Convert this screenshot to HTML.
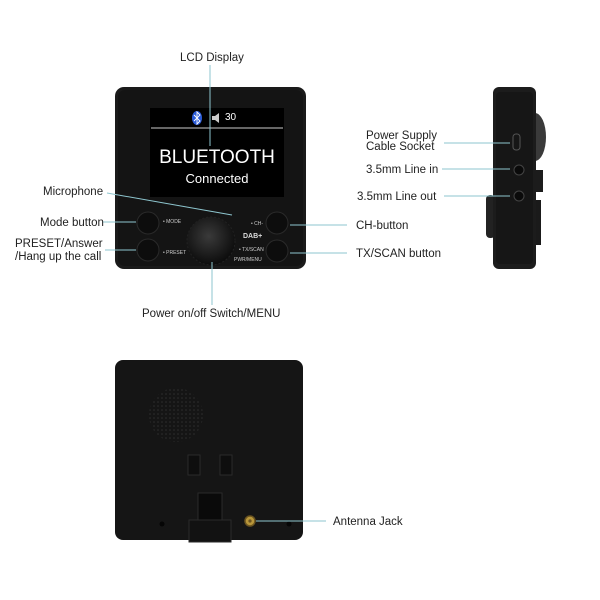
<!DOCTYPE html>
<html><head><meta charset="utf-8"><style>
body{margin:0;width:600px;height:600px;background:#fff;position:relative;overflow:hidden;font-family:"Liberation Sans",sans-serif;color:#222}
.t{position:absolute;font-size:11.5px;white-space:nowrap;line-height:12px}
svg{position:absolute;left:0;top:0}
</style></head><body>
<svg width="600" height="600" viewBox="0 0 600 600">
<defs>
<radialGradient id="kn" cx="0.45" cy="0.4" r="0.6"><stop offset="0" stop-color="#3a3a3a"/><stop offset="1" stop-color="#0c0c0c"/></radialGradient>
<pattern id="dots" width="4" height="4" patternUnits="userSpaceOnUse"><circle cx="2" cy="2" r="0.8" fill="#2e2e2e"/></pattern>
</defs>
<!-- front device -->
<rect x="115" y="87" width="191" height="182" rx="9" fill="#1a1a1a"/>
<rect x="118" y="90" width="185" height="176" rx="7" fill="#141414"/>
<rect x="150" y="108" width="134" height="89" fill="#000"/>
<line x1="151" y1="128" x2="283" y2="128" stroke="#888" stroke-width="1.5"/>
<ellipse cx="197" cy="118" rx="5" ry="7" fill="#2a5bd8"/>
<path d="M194 115 L200 121 L197 124 L197 112 L200 115 L194 121" stroke="#fff" stroke-width="0.9" fill="none"/>
<path d="M212 116 h3 l4 -3 v10 l-4 -3 h-3z" fill="#ccc"/>
<circle cx="148" cy="223" r="11" fill="#0d0d0d" stroke="#2a2a2a"/>
<circle cx="148" cy="250" r="11" fill="#0d0d0d" stroke="#2a2a2a"/>
<circle cx="277" cy="223" r="11" fill="#0d0d0d" stroke="#2a2a2a"/>
<circle cx="277" cy="251" r="11" fill="#0d0d0d" stroke="#2a2a2a"/>
<circle cx="211" cy="241" r="24" fill="url(#kn)" stroke="#222" stroke-dasharray="2 2"/>
<!-- side device -->
<path d="M535 113 a11 24 0 0 1 0 48z" fill="#3a3a3a"/>
<rect x="535" y="170" width="8" height="22" fill="#1c1c1c"/>
<rect x="535" y="200" width="6" height="45" fill="#1a1a1a"/>
<rect x="486" y="195" width="9" height="43" rx="4" fill="#222"/>
<rect x="493" y="87" width="43" height="182" rx="6" fill="#1c1c1c"/>
<rect x="496" y="92" width="37" height="172" rx="4" fill="#161616"/>
<rect x="513" y="134" width="7" height="16" rx="3" fill="none" stroke="#555"/>
<circle cx="519" cy="170" r="5" fill="#0a0a0a" stroke="#444"/>
<circle cx="519" cy="196" r="5" fill="#0a0a0a" stroke="#444"/>
<!-- back device -->
<rect x="115" y="360" width="188" height="180" rx="8" fill="#151515"/>
<circle cx="176" cy="415" r="27" fill="url(#dots)"/>
<rect x="188" y="455" width="12" height="20" fill="#0e0e0e" stroke="#2a2a2a"/>
<rect x="220" y="455" width="12" height="20" fill="#0e0e0e" stroke="#2a2a2a"/>
<rect x="198" y="493" width="24" height="40" fill="#0a0a0a" stroke="#2a2a2a"/>
<rect x="189" y="520" width="42" height="22" fill="#121212" stroke="#2a2a2a"/>
<circle cx="250" cy="521" r="5" fill="#b8963a" stroke="#6b5420" stroke-width="1.5"/>
<circle cx="250" cy="521" r="1.6" fill="#6b5420"/>
<circle cx="162" cy="524" r="2.5" fill="#050505"/>
<circle cx="289" cy="524" r="2.5" fill="#050505"/>
<!-- leader lines -->
<g stroke="#8ec6cf" stroke-width="1" fill="none">
<line x1="210" y1="65" x2="210" y2="146"/>
<line x1="107" y1="193" x2="232" y2="215"/>
<line x1="103" y1="222" x2="136" y2="222"/>
<line x1="105" y1="250" x2="136" y2="250"/>
<line x1="290" y1="225" x2="347" y2="225"/>
<line x1="290" y1="253" x2="347" y2="253"/>
<line x1="212" y1="262" x2="212" y2="305"/>
<line x1="444" y1="143" x2="510" y2="143"/>
<line x1="442" y1="169" x2="510" y2="169"/>
<line x1="444" y1="196" x2="510" y2="196"/>
<line x1="256" y1="521" x2="326" y2="521"/>
</g>
</svg>
<div class="t" style="left:180px;top:52px">LCD Display</div>
<div class="t" style="left:225px;top:112px;color:#fff;font-size:10px">30</div>
<div class="t" style="left:150px;top:148px;width:134px;text-align:center;color:#fff;font-size:19px;line-height:20px">BLUETOOTH</div>
<div class="t" style="left:150px;top:172px;width:134px;text-align:center;color:#fff;font-size:13px;line-height:14px">Connected</div>
<div class="t" style="left:163px;top:219px;color:#ccc;font-size:5px;line-height:6px">• MODE</div>
<div class="t" style="left:163px;top:250px;color:#ccc;font-size:5px;line-height:6px">• PRESET</div>
<div class="t" style="left:251px;top:221px;color:#ccc;font-size:5px;line-height:6px">• CH-</div>
<div class="t" style="left:243px;top:233px;color:#ddd;font-size:7px;font-weight:bold;line-height:8px">DAB+</div>
<div class="t" style="left:239px;top:247px;color:#ccc;font-size:5px;line-height:6px">• TX/SCAN</div>
<div class="t" style="left:234px;top:257px;color:#ccc;font-size:5px;line-height:6px">PWR/MENU</div>
<div class="t" style="left:43px;top:186px">Microphone</div>
<div class="t" style="left:40px;top:217px">Mode button</div>
<div class="t" style="left:15px;top:238px">PRESET/Answer</div>
<div class="t" style="left:15px;top:251px">/Hang up the call</div>
<div class="t" style="left:142px;top:308px">Power on/off Switch/MENU</div>
<div class="t" style="left:356px;top:220px">CH-button</div>
<div class="t" style="left:356px;top:248px">TX/SCAN button</div>
<div class="t" style="left:366px;top:131px;line-height:11px">Power Supply<br>Cable Socket</div>
<div class="t" style="left:366px;top:164px">3.5mm Line in</div>
<div class="t" style="left:357px;top:191px">3.5mm Line out</div>
<div class="t" style="left:333px;top:516px">Antenna Jack</div>
</body></html>
